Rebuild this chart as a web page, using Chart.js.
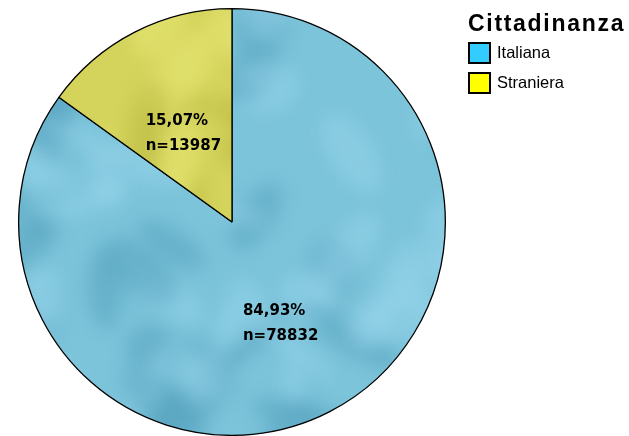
<!DOCTYPE html>
<html>
<head>
<meta charset="utf-8">
<script src="https://cdn.jsdelivr.net/npm/chart.js@4"></script>
<style>
  html, body { margin: 0; padding: 0; background: #fff; }
  #wrap { position: relative; width: 629px; height: 436px; }
  #legend { position: absolute; left: 468px; top: 11px; font-family: "Liberation Sans", Arial, sans-serif; }
  #legend .title { font-weight: bold; font-size: 23px; letter-spacing: 1.7px; line-height: 25px; margin-bottom: 6px; white-space: nowrap; }
  #legend .item { display: flex; align-items: center; height: 21px; margin-bottom: 9px; font-size: 16.5px; }
  #legend .box { width: 19px; height: 18px; border: 2px solid #000; margin-right: 6px; }
</style>
</head>
<body>
<div id="wrap">
  <canvas id="pieChart" width="629" height="436"></canvas>
  <div id="legend"></div>
</div>
<script>
let legendTitle = 'Cittadinanza';
let categories = ['Italiana', 'Straniera'];
let percents = ['84,93%', '15,07%'];
let counts = [78832, 13987];
let legendColors = ['#33ccff', '#ffff00'];

// cloudy texture, like the old office chart fill
function cloudPattern(base, dark, light, seed) {
    let c = document.createElement('canvas');
    c.width = 629; c.height = 436;
    let g = c.getContext('2d');
    g.fillStyle = base;
    g.fillRect(0, 0, c.width, c.height);
    let s = seed;
    let rnd = () => { s = (s * 16807) % 2147483647; return s / 2147483647; };
    g.filter = 'blur(9px)';
    for (let i = 0; i < 80; i++) {
        g.fillStyle = rnd() < 0.5 ? dark : light;
        g.globalAlpha = 0.4;
        g.beginPath();
        g.ellipse(rnd() * 629, rnd() * 436, 20 + rnd() * 40, 8 + rnd() * 18, rnd() * 3, 0, Math.PI * 2);
        g.fill();
    }
    return g.createPattern(c, 'repeat');
}

let ctx = document.getElementById('pieChart').getContext('2d');
let fills = [
    cloudPattern('#7cc4da', '#4b98b6', '#9edaf0', 7),
    cloudPattern('#d4d45c', '#b0af38', '#eeee80', 11)
];

let legend = document.getElementById('legend');
legend.innerHTML = '<div class="title">' + legendTitle + '</div>' +
    categories.map((c, i) => '<div class="item"><div class="box" style="background:' + legendColors[i] + '"></div>' + c + '</div>').join('');

const sliceLabels = {
    id: 'sliceLabels',
    afterDatasetsDraw(chart) {
        let c = chart.ctx;
        let meta = chart.getDatasetMeta(0);
        c.save();
        c.font = 'bold 15px "DejaVu Sans", sans-serif';
        c.fillStyle = '#000';
        c.textBaseline = 'middle';
        meta.data.forEach((arc, i) => {
            let p = arc.tooltipPosition();
            let lines = [percents[i], 'n=' + counts[i]];
            let w = Math.max(...lines.map(l => c.measureText(l).width));
            let x = p.x - w / 2;
            c.textAlign = 'left';
            c.fillText(lines[0], x, p.y - 6);
            c.fillText(lines[1], x, p.y + 19);
        });
        c.restore();
    }
};

const pie = new Chart(ctx, {
    type: 'pie',
    data: {
        labels: categories,
        datasets: [{
            data: counts,
            backgroundColor: fills,
            borderColor: '#000',
            borderWidth: 1.3
        }]
    },
    options: {
        responsive: false,
        animation: false,
        layout: { padding: { left: 18, top: 8, right: 183, bottom: 0 } },
        plugins: {
            legend: { display: false },
            tooltip: { enabled: false }
        }
    },
    plugins: [sliceLabels]
});
</script>
</body>
</html>
